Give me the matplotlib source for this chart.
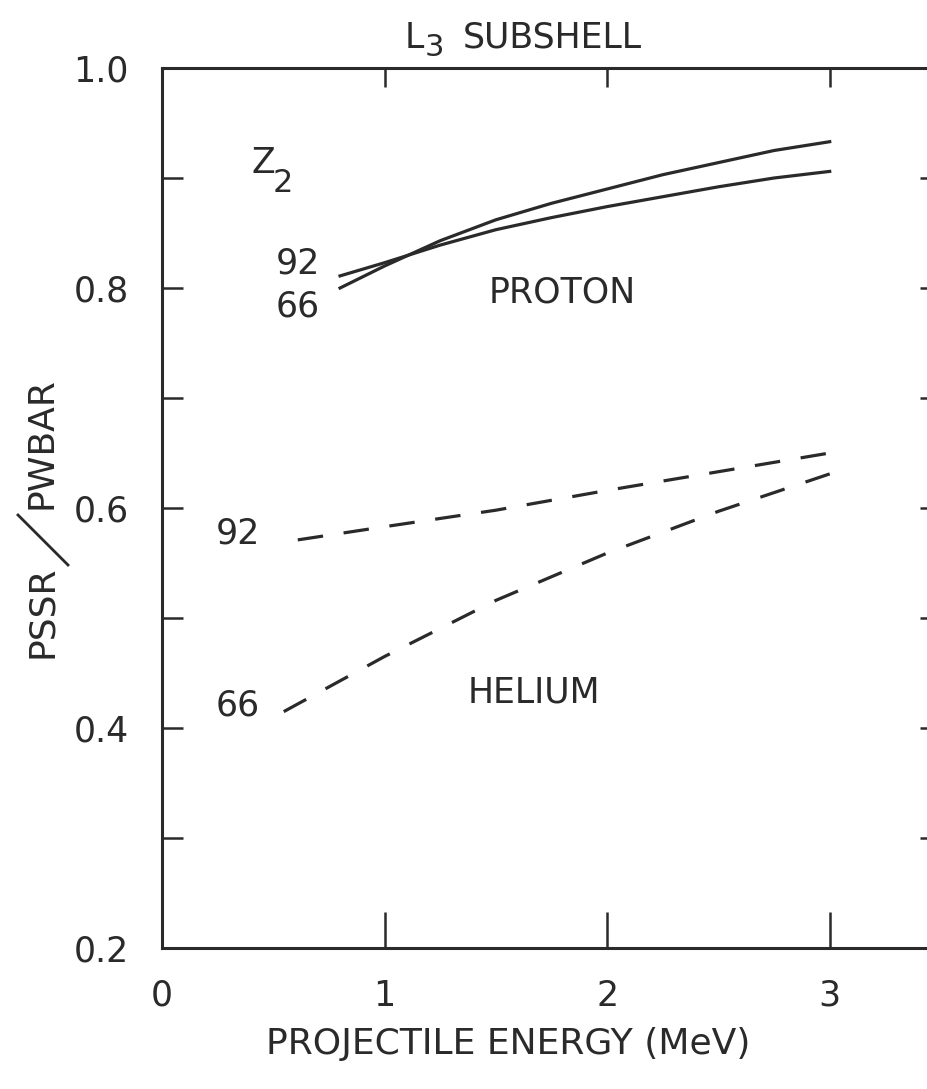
import matplotlib
matplotlib.use("Agg")
import matplotlib.pyplot as plt
from matplotlib.lines import Line2D
from matplotlib.ticker import FixedLocator

plt.rcParams['font.family'] = ['DejaVu Sans Condensed', 'Liberation Sans Narrow', 'DejaVu Sans']

# Projectile energy (MeV) and PSSR/PWBAR ratios, L3 subshell
proton_energy = [0.8, 1.0, 1.25, 1.5, 1.75, 2.0, 2.25, 2.5, 2.75, 3.0]
proton_z66 = [0.800, 0.820, 0.843, 0.862, 0.877, 0.890, 0.903, 0.914, 0.925, 0.933]
proton_z92 = [0.811, 0.823, 0.839, 0.853, 0.864, 0.874, 0.883, 0.892, 0.900, 0.906]

helium_energy_z92 = [0.61, 1.0, 1.5, 2.0, 2.5, 3.0]
helium_z92 = [0.571, 0.583, 0.598, 0.616, 0.633, 0.650]
helium_energy_z66 = [0.53, 1.0, 1.5, 2.0, 2.5, 3.0]
helium_z66 = [0.413, 0.465, 0.516, 0.559, 0.597, 0.631]

x_ticks = [0, 1, 2, 3]
y_ticks = [0.2, 0.3, 0.4, 0.5, 0.6, 0.7, 0.8, 0.9, 1.0]
y_tick_labels = ['0.2', '', '0.4', '', '0.6', '', '0.8', '', '1.0']

W, H = 928, 1089
fig = plt.figure(figsize=(W / 100, H / 100), dpi=100)
left, right, top, bottom = 162, 941, 68, 948
ax = fig.add_axes([left / W, 1 - bottom / H, (right - left) / W, (bottom - top) / H])

ink = '#2a2a2a'
lw = 2.3
ax.plot(proton_energy, proton_z66, color=ink, lw=lw)
ax.plot(proton_energy, proton_z92, color=ink, lw=lw)
ax.plot(helium_energy_z92, helium_z92, color=ink, lw=lw, dashes=(8, 6.5))
# traced from the high-energy end so both ends close on a dash
ax.plot(helium_energy_z66[::-1], helium_z66[::-1], color=ink, lw=lw, dashes=(8, 6.9))

ax.set_xlim(0, 3.5)
ax.set_ylim(0.2, 1.0)

for s in ax.spines.values():
    s.set_linewidth(2.2)
    s.set_color(ink)

ax.xaxis.set_major_locator(FixedLocator(x_ticks))
ax.set_xticklabels([str(t) for t in x_ticks])
ax.yaxis.set_major_locator(FixedLocator(y_ticks))
ax.set_yticklabels(y_tick_labels)

ax.tick_params(axis='both', direction='in', color=ink, width=1.8, labelsize=25,
               labelcolor=ink)
ax.tick_params(axis='x', which='major', bottom=True, top=False, length=26, pad=22)
ax.tick_params(axis='y', which='major', left=True, right=True, length=15, pad=24)

# shorter inward ticks along the top edge
top_ax = ax.secondary_xaxis('top')
top_ax.xaxis.set_major_locator(FixedLocator(x_ticks[1:]))
top_ax.tick_params(direction='in', length=14, width=1.8, color=ink, labeltop=False)
top_ax.spines['top'].set_visible(False)

ax.set_xlabel('PROJECTILE ENERGY (MeV)', fontsize=26, color=ink, labelpad=14)
ax.xaxis.set_label_coords((508 - left) / (right - left), -0.09)

# Title with a full-size, lowered subscript
fig.text(405 / W, 1 - 38 / H, 'L', fontsize=25, color=ink, ha='left', va='center')
fig.text(425 / W, 1 - 47 / H, '3', fontsize=22, color=ink, ha='left', va='center')
fig.text(463 / W, 1 - 38 / H, 'SUBSHELL', fontsize=25, color=ink, ha='left', va='center')

# Y label: PSSR / PWBAR with a long slash
fig.text(42 / W, 1 - 612 / H, 'PSSR', fontsize=26, color=ink, rotation=90,
         ha='center', va='center')
fig.text(42 / W, 1 - 443 / H, 'PWBAR', fontsize=26, color=ink, rotation=90,
         ha='center', va='center')
fig.add_artist(Line2D([18 / W, 68 / W], [1 - 515 / H, 1 - 565 / H],
                      transform=fig.transFigure, color=ink, lw=2.0))

# Curve annotations
tk = dict(color=ink, fontsize=25, ha='center', va='center')
ax.text(0.455, 0.914, 'Z', **tk)
ax.text(0.545, 0.895, '2', color=ink, fontsize=23, ha='center', va='center')
ax.text(0.61, 0.822, '92', **tk)
ax.text(0.61, 0.783, '66', **tk)
ax.text(1.80, 0.796, 'PROTON', **tk)
ax.text(0.34, 0.577, '92', **tk)
ax.text(0.34, 0.420, '66', **tk)
ax.text(1.67, 0.432, 'HELIUM', **tk)

fig.savefig('out.png', dpi=100)
